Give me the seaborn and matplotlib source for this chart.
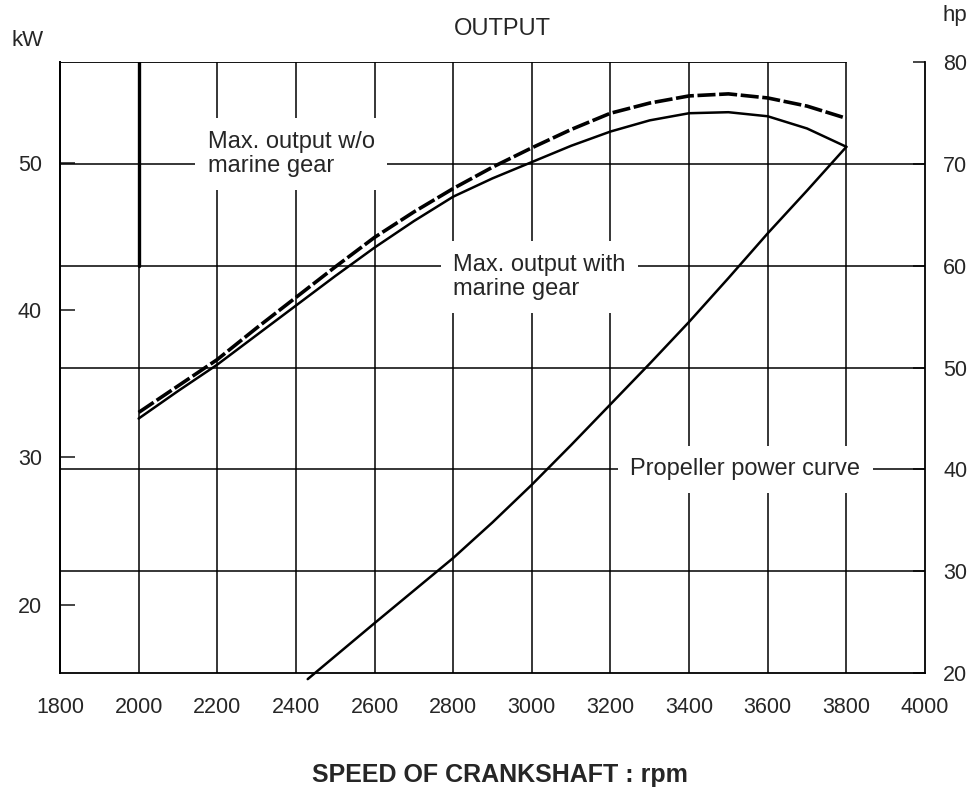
import numpy as np
import pandas as pd
import matplotlib
matplotlib.use("Agg")
import matplotlib.pyplot as plt
import seaborn as sns

# values (hp on the right-hand scale)
rpm = [2000, 2100, 2200, 2300, 2400, 2500, 2600, 2700, 2800, 2900,
       3000, 3100, 3200, 3300, 3400, 3500, 3600, 3700, 3800]
hp_without_gear = [45.6, 48.2, 50.8, 53.9, 56.9, 59.9, 62.8, 65.3, 67.6, 69.7,
                   71.6, 73.4, 75.0, 76.0, 76.7, 76.9, 76.5, 75.7, 74.5]
hp_with_gear = [45.0, 47.7, 50.3, 53.2, 56.1, 59.0, 61.8, 64.4, 66.8, 68.6,
                70.2, 71.8, 73.2, 74.3, 75.0, 75.1, 74.7, 73.5, 71.7]

prop_rpm = [2430, 2600, 2700, 2800, 2900, 3000, 3100, 3200,
            3300, 3400, 3500, 3600, 3700, 3800]
prop_hp = [19.4, 24.9, 28.1, 31.3, 34.8, 38.5, 42.4, 46.4,
           50.4, 54.5, 58.8, 63.2, 67.4, 71.7]

x_ticks = [1800, 2000, 2200, 2400, 2600, 2800, 3000, 3200, 3400, 3600, 3800, 4000]
hp_ticks = [20, 30, 40, 50, 60, 70, 80]
kw_ticks = [20, 30, 40, 50]


# the printed kW scale does not sit exactly on 1 kW = 1.341 hp, follow the print
def hp_to_kw(h):
    return 35 + (np.asarray(h) - 48.4) / 1.445


def kw_to_hp(k):
    return 48.4 + (np.asarray(k) - 35) * 1.445


sns.set_theme(style="white")
plt.rcParams['font.family'] = ['Liberation Sans', 'DejaVu Sans']
plt.rcParams['font.size'] = 16

fig = plt.figure(figsize=(9.74, 7.89), dpi=100)
ax = fig.add_axes([0.0616, 0.147, 0.8881, 0.774])

grid_kw = dict(color='black', lw=1.1, zorder=1)
for x in x_ticks[1:-1]:
    ax.axvline(x, **grid_kw)
for h in hp_ticks[1:-1]:
    ax.axhline(h, **grid_kw)
# heavier upper part of the 2000 rpm line and the open top edge past 3800
ax.axvline(2000, ymin=(60 - 20) / 60, color='black', lw=2.4, zorder=1)
ax.axhline(80, xmax=(3800 - 1800) / (4000 - 1800), color='black', lw=1.3, zorder=1)

sns.lineplot(x=rpm, y=hp_without_gear, ax=ax, color='black', lw=2.6,
             linestyle=(0, (5, 1)), zorder=3)
sns.lineplot(x=rpm, y=hp_with_gear, ax=ax, color='black', lw=1.8, zorder=3)
sns.lineplot(x=prop_rpm, y=prop_hp, ax=ax, color='black', lw=1.8, zorder=3,
             clip_on=False)

box = dict(facecolor='white', edgecolor='none', pad=9)
ax.text(2176, 71.0, "Max. output w/o\nmarine gear", fontsize=17, va='center',
        ha='left', linespacing=1.15, bbox=box, zorder=2)
ax.text(2800, 58.9, "Max. output with\nmarine gear", fontsize=17, va='center',
        ha='left', linespacing=1.15, bbox=box, zorder=2)
ax.text(3250, 40.0, "Propeller power curve", fontsize=17, va='center',
        ha='left', bbox=box, zorder=2)

ax.set_xlim(1800, 4000)
ax.set_ylim(20, 80)
ax.set_xticks(x_ticks)
ax.set_yticks(hp_ticks)
ax.yaxis.tick_right()
ax.tick_params(axis='x', length=0, pad=17, labelsize=15.5)
ax.tick_params(axis='y', direction='in', length=9, width=1.2, pad=13,
               labelsize=15.5, right=True, left=False)

for side in ['left', 'right', 'bottom']:
    ax.spines[side].set_color('black')
    ax.spines[side].set_linewidth(1.3)
ax.spines['top'].set_visible(False)

sec = ax.secondary_yaxis('left', functions=(hp_to_kw, kw_to_hp))
sec.set_yticks(kw_ticks)
sec.tick_params(direction='in', length=11, width=1.2, pad=13, labelsize=15.5)
sec.spines['left'].set_color('black')
sec.spines['left'].set_linewidth(1.3)

ax.set_title("OUTPUT", x=0.511, pad=20, fontsize=17)
ax.set_xlabel("SPEED OF CRANKSHAFT : rpm", fontsize=18, fontweight='bold',
              labelpad=33, x=0.509)
ax.set_ylabel("")
fig.text(28 / 974, 1 - 40 / 789, "kW", fontsize=16, ha='center', va='center')
fig.text(955 / 974, 1 - 16 / 789, "hp", fontsize=16, ha='center', va='center')

fig.savefig("out.png", dpi=100, facecolor='white')
